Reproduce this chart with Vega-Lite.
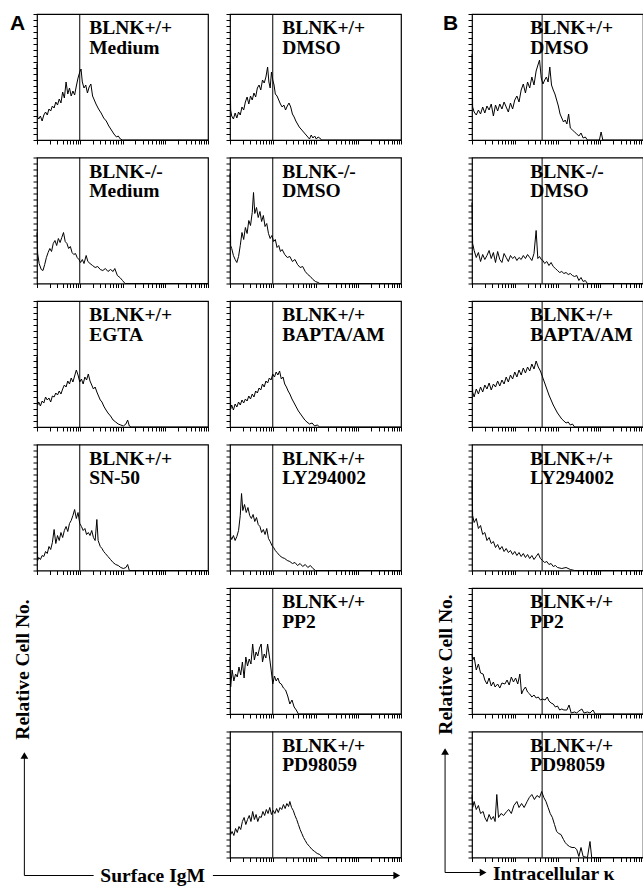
{
"$schema": "https://vega.github.io/schema/vega-lite/v6.json",
"padding": {"left": 9, "top": 12, "right": 0, "bottom": 0},
"background": "white",
"config": {"view": {"stroke": "black", "strokeWidth": 1.2}, "axis": {"domain": false, "grid": false, "labels": false, "ticks": true, "tickColor": "black", "tickSize": 4, "tickWidth": 1, "tickOpacity": 1, "tickRound": true, "tickCount": 100}},
"datasets": {
"lab": [
{"p":"a1","t":"BLNK+/+\nMedium"},{"p":"a2","t":"BLNK-/-\nMedium"},{"p":"a3","t":"BLNK+/+\nEGTA"},{"p":"a4","t":"BLNK+/+\nSN-50"},
{"p":"b1","t":"BLNK+/+\nDMSO"},{"p":"b2","t":"BLNK-/-\nDMSO"},{"p":"b3","t":"BLNK+/+\nBAPTA/AM"},{"p":"b4","t":"BLNK+/+\nLY294002"},{"p":"b5","t":"BLNK+/+\nPP2"},{"p":"b6","t":"BLNK+/+\nPD98059"},
{"p":"c1","t":"BLNK+/+\nDMSO"},{"p":"c2","t":"BLNK-/-\nDMSO"},{"p":"c3","t":"BLNK+/+\nBAPTA/AM"},{"p":"c4","t":"BLNK+/+\nLY294002"},{"p":"c5","t":"BLNK+/+\nPP2"},{"p":"c6","t":"BLNK+/+\nPD98059"}
],
"h": [
{"p":"a1","x":0,"y":76},{"p":"a1","x":0.015,"y":23},{"p":"a1","x":0.04,"y":21},{"p":"a1","x":0.08,"y":24},{"p":"a1","x":0.12,"y":19},{"p":"a1","x":0.16,"y":25},{"p":"a1","x":0.2,"y":28},{"p":"a1","x":0.24,"y":25},{"p":"a1","x":0.28,"y":31},{"p":"a1","x":0.32,"y":29},{"p":"a1","x":0.36,"y":34},{"p":"a1","x":0.4,"y":32},{"p":"a1","x":0.44,"y":38},{"p":"a1","x":0.48,"y":35},{"p":"a1","x":0.52,"y":41},{"p":"a1","x":0.56,"y":37},{"p":"a1","x":0.6,"y":48},{"p":"a1","x":0.64,"y":42},{"p":"a1","x":0.68,"y":58},{"p":"a1","x":0.72,"y":46},{"p":"a1","x":0.76,"y":52},{"p":"a1","x":0.8,"y":44},{"p":"a1","x":0.84,"y":49},{"p":"a1","x":0.88,"y":45},{"p":"a1","x":0.92,"y":54},{"p":"a1","x":0.96,"y":62},{"p":"a1","x":1.0,"y":68},{"p":"a1","x":1.03,"y":71},{"p":"a1","x":1.06,"y":58},{"p":"a1","x":1.1,"y":52},{"p":"a1","x":1.14,"y":55},{"p":"a1","x":1.18,"y":47},{"p":"a1","x":1.22,"y":53},{"p":"a1","x":1.26,"y":56},{"p":"a1","x":1.3,"y":44},{"p":"a1","x":1.34,"y":40},{"p":"a1","x":1.38,"y":36},{"p":"a1","x":1.44,"y":31},{"p":"a1","x":1.5,"y":27},{"p":"a1","x":1.56,"y":22},{"p":"a1","x":1.62,"y":19},{"p":"a1","x":1.68,"y":14},{"p":"a1","x":1.74,"y":10},{"p":"a1","x":1.8,"y":6},{"p":"a1","x":1.86,"y":3},{"p":"a1","x":1.9,"y":4},{"p":"a1","x":1.95,"y":1},{"p":"a1","x":2.0,"y":0},{"p":"a1","x":4,"y":0},
{"p":"a2","x":0,"y":51},{"p":"a2","x":0.015,"y":30},{"p":"a2","x":0.05,"y":20},{"p":"a2","x":0.1,"y":14},{"p":"a2","x":0.14,"y":13},{"p":"a2","x":0.18,"y":19},{"p":"a2","x":0.22,"y":26},{"p":"a2","x":0.26,"y":31},{"p":"a2","x":0.3,"y":35},{"p":"a2","x":0.34,"y":32},{"p":"a2","x":0.38,"y":40},{"p":"a2","x":0.42,"y":43},{"p":"a2","x":0.46,"y":38},{"p":"a2","x":0.5,"y":45},{"p":"a2","x":0.54,"y":41},{"p":"a2","x":0.58,"y":46},{"p":"a2","x":0.62,"y":51},{"p":"a2","x":0.66,"y":42},{"p":"a2","x":0.7,"y":40},{"p":"a2","x":0.74,"y":35},{"p":"a2","x":0.78,"y":37},{"p":"a2","x":0.82,"y":31},{"p":"a2","x":0.86,"y":29},{"p":"a2","x":0.9,"y":30},{"p":"a2","x":0.94,"y":26},{"p":"a2","x":0.98,"y":24},{"p":"a2","x":1.02,"y":21},{"p":"a2","x":1.06,"y":24},{"p":"a2","x":1.1,"y":20},{"p":"a2","x":1.15,"y":28},{"p":"a2","x":1.19,"y":22},{"p":"a2","x":1.24,"y":20},{"p":"a2","x":1.3,"y":18},{"p":"a2","x":1.36,"y":16},{"p":"a2","x":1.42,"y":17},{"p":"a2","x":1.48,"y":14},{"p":"a2","x":1.54,"y":13},{"p":"a2","x":1.6,"y":15},{"p":"a2","x":1.66,"y":12},{"p":"a2","x":1.72,"y":14},{"p":"a2","x":1.78,"y":12},{"p":"a2","x":1.82,"y":15},{"p":"a2","x":1.88,"y":8},{"p":"a2","x":1.94,"y":6},{"p":"a2","x":2.0,"y":3},{"p":"a2","x":2.06,"y":0},{"p":"a2","x":4,"y":0},
{"p":"a3","x":0,"y":70},{"p":"a3","x":0.015,"y":22},{"p":"a3","x":0.04,"y":25},{"p":"a3","x":0.08,"y":21},{"p":"a3","x":0.12,"y":26},{"p":"a3","x":0.16,"y":24},{"p":"a3","x":0.2,"y":30},{"p":"a3","x":0.24,"y":27},{"p":"a3","x":0.28,"y":29},{"p":"a3","x":0.32,"y":25},{"p":"a3","x":0.36,"y":31},{"p":"a3","x":0.4,"y":30},{"p":"a3","x":0.44,"y":34},{"p":"a3","x":0.48,"y":32},{"p":"a3","x":0.52,"y":36},{"p":"a3","x":0.56,"y":33},{"p":"a3","x":0.6,"y":38},{"p":"a3","x":0.64,"y":42},{"p":"a3","x":0.68,"y":40},{"p":"a3","x":0.72,"y":46},{"p":"a3","x":0.76,"y":43},{"p":"a3","x":0.8,"y":49},{"p":"a3","x":0.84,"y":45},{"p":"a3","x":0.88,"y":51},{"p":"a3","x":0.92,"y":57},{"p":"a3","x":0.96,"y":52},{"p":"a3","x":1.0,"y":45},{"p":"a3","x":1.04,"y":48},{"p":"a3","x":1.08,"y":43},{"p":"a3","x":1.12,"y":50},{"p":"a3","x":1.16,"y":47},{"p":"a3","x":1.2,"y":53},{"p":"a3","x":1.24,"y":46},{"p":"a3","x":1.28,"y":42},{"p":"a3","x":1.32,"y":38},{"p":"a3","x":1.36,"y":40},{"p":"a3","x":1.4,"y":35},{"p":"a3","x":1.44,"y":31},{"p":"a3","x":1.48,"y":27},{"p":"a3","x":1.52,"y":25},{"p":"a3","x":1.56,"y":21},{"p":"a3","x":1.6,"y":18},{"p":"a3","x":1.66,"y":14},{"p":"a3","x":1.72,"y":11},{"p":"a3","x":1.78,"y":7},{"p":"a3","x":1.84,"y":5},{"p":"a3","x":1.9,"y":3},{"p":"a3","x":1.96,"y":2},{"p":"a3","x":2.02,"y":1},{"p":"a3","x":2.08,"y":3},{"p":"a3","x":2.12,"y":7},{"p":"a3","x":2.16,"y":1},{"p":"a3","x":2.2,"y":0},{"p":"a3","x":4,"y":0},
{"p":"a4","x":0,"y":67},{"p":"a4","x":0.015,"y":10},{"p":"a4","x":0.04,"y":13},{"p":"a4","x":0.08,"y":11},{"p":"a4","x":0.12,"y":15},{"p":"a4","x":0.16,"y":14},{"p":"a4","x":0.2,"y":19},{"p":"a4","x":0.24,"y":17},{"p":"a4","x":0.28,"y":24},{"p":"a4","x":0.32,"y":21},{"p":"a4","x":0.36,"y":28},{"p":"a4","x":0.4,"y":41},{"p":"a4","x":0.44,"y":27},{"p":"a4","x":0.48,"y":35},{"p":"a4","x":0.52,"y":30},{"p":"a4","x":0.56,"y":38},{"p":"a4","x":0.6,"y":33},{"p":"a4","x":0.64,"y":40},{"p":"a4","x":0.68,"y":44},{"p":"a4","x":0.72,"y":39},{"p":"a4","x":0.76,"y":47},{"p":"a4","x":0.8,"y":50},{"p":"a4","x":0.84,"y":55},{"p":"a4","x":0.88,"y":61},{"p":"a4","x":0.92,"y":52},{"p":"a4","x":0.96,"y":58},{"p":"a4","x":1.0,"y":47},{"p":"a4","x":1.04,"y":44},{"p":"a4","x":1.08,"y":40},{"p":"a4","x":1.12,"y":42},{"p":"a4","x":1.16,"y":36},{"p":"a4","x":1.2,"y":38},{"p":"a4","x":1.24,"y":35},{"p":"a4","x":1.28,"y":40},{"p":"a4","x":1.32,"y":33},{"p":"a4","x":1.36,"y":30},{"p":"a4","x":1.4,"y":51},{"p":"a4","x":1.43,"y":30},{"p":"a4","x":1.48,"y":24},{"p":"a4","x":1.52,"y":22},{"p":"a4","x":1.56,"y":19},{"p":"a4","x":1.6,"y":17},{"p":"a4","x":1.66,"y":14},{"p":"a4","x":1.72,"y":11},{"p":"a4","x":1.78,"y":8},{"p":"a4","x":1.84,"y":6},{"p":"a4","x":1.9,"y":5},{"p":"a4","x":1.96,"y":3},{"p":"a4","x":2.02,"y":2},{"p":"a4","x":2.08,"y":3},{"p":"a4","x":2.12,"y":6},{"p":"a4","x":2.16,"y":0},{"p":"a4","x":4,"y":0},
{"p":"b1","x":0,"y":76},{"p":"b1","x":0.015,"y":30},{"p":"b1","x":0.04,"y":24},{"p":"b1","x":0.08,"y":21},{"p":"b1","x":0.12,"y":27},{"p":"b1","x":0.16,"y":22},{"p":"b1","x":0.2,"y":28},{"p":"b1","x":0.24,"y":25},{"p":"b1","x":0.28,"y":33},{"p":"b1","x":0.32,"y":30},{"p":"b1","x":0.36,"y":38},{"p":"b1","x":0.4,"y":43},{"p":"b1","x":0.44,"y":36},{"p":"b1","x":0.48,"y":44},{"p":"b1","x":0.52,"y":40},{"p":"b1","x":0.56,"y":47},{"p":"b1","x":0.6,"y":43},{"p":"b1","x":0.64,"y":52},{"p":"b1","x":0.68,"y":55},{"p":"b1","x":0.72,"y":50},{"p":"b1","x":0.76,"y":60},{"p":"b1","x":0.8,"y":57},{"p":"b1","x":0.84,"y":63},{"p":"b1","x":0.88,"y":73},{"p":"b1","x":0.91,"y":58},{"p":"b1","x":0.94,"y":52},{"p":"b1","x":0.97,"y":68},{"p":"b1","x":1.0,"y":60},{"p":"b1","x":1.03,"y":55},{"p":"b1","x":1.06,"y":46},{"p":"b1","x":1.1,"y":44},{"p":"b1","x":1.14,"y":40},{"p":"b1","x":1.18,"y":36},{"p":"b1","x":1.22,"y":33},{"p":"b1","x":1.26,"y":35},{"p":"b1","x":1.3,"y":30},{"p":"b1","x":1.34,"y":34},{"p":"b1","x":1.38,"y":37},{"p":"b1","x":1.42,"y":33},{"p":"b1","x":1.46,"y":26},{"p":"b1","x":1.5,"y":23},{"p":"b1","x":1.54,"y":19},{"p":"b1","x":1.58,"y":16},{"p":"b1","x":1.62,"y":13},{"p":"b1","x":1.66,"y":11},{"p":"b1","x":1.7,"y":9},{"p":"b1","x":1.74,"y":7},{"p":"b1","x":1.78,"y":5},{"p":"b1","x":1.82,"y":3},{"p":"b1","x":1.86,"y":1},{"p":"b1","x":1.9,"y":5},{"p":"b1","x":1.94,"y":2},{"p":"b1","x":1.98,"y":4},{"p":"b1","x":2.02,"y":1},{"p":"b1","x":2.06,"y":3},{"p":"b1","x":2.1,"y":2},{"p":"b1","x":2.14,"y":0},{"p":"b1","x":4,"y":0},
{"p":"b2","x":0,"y":110},{"p":"b2","x":0.015,"y":38},{"p":"b2","x":0.04,"y":35},{"p":"b2","x":0.08,"y":28},{"p":"b2","x":0.12,"y":24},{"p":"b2","x":0.16,"y":21},{"p":"b2","x":0.2,"y":27},{"p":"b2","x":0.24,"y":38},{"p":"b2","x":0.28,"y":51},{"p":"b2","x":0.32,"y":44},{"p":"b2","x":0.36,"y":56},{"p":"b2","x":0.4,"y":50},{"p":"b2","x":0.44,"y":63},{"p":"b2","x":0.48,"y":58},{"p":"b2","x":0.52,"y":71},{"p":"b2","x":0.55,"y":91},{"p":"b2","x":0.58,"y":70},{"p":"b2","x":0.62,"y":76},{"p":"b2","x":0.66,"y":66},{"p":"b2","x":0.7,"y":72},{"p":"b2","x":0.74,"y":62},{"p":"b2","x":0.78,"y":68},{"p":"b2","x":0.82,"y":57},{"p":"b2","x":0.86,"y":60},{"p":"b2","x":0.9,"y":50},{"p":"b2","x":0.94,"y":45},{"p":"b2","x":0.98,"y":48},{"p":"b2","x":1.02,"y":42},{"p":"b2","x":1.06,"y":44},{"p":"b2","x":1.1,"y":36},{"p":"b2","x":1.14,"y":38},{"p":"b2","x":1.18,"y":32},{"p":"b2","x":1.22,"y":34},{"p":"b2","x":1.28,"y":29},{"p":"b2","x":1.34,"y":26},{"p":"b2","x":1.4,"y":27},{"p":"b2","x":1.46,"y":22},{"p":"b2","x":1.52,"y":24},{"p":"b2","x":1.58,"y":19},{"p":"b2","x":1.64,"y":16},{"p":"b2","x":1.7,"y":17},{"p":"b2","x":1.76,"y":12},{"p":"b2","x":1.82,"y":9},{"p":"b2","x":1.88,"y":7},{"p":"b2","x":1.94,"y":4},{"p":"b2","x":2.0,"y":2},{"p":"b2","x":2.06,"y":1},{"p":"b2","x":2.1,"y":0},{"p":"b2","x":4,"y":0},
{"p":"b3","x":0,"y":70},{"p":"b3","x":0.015,"y":18},{"p":"b3","x":0.04,"y":22},{"p":"b3","x":0.08,"y":17},{"p":"b3","x":0.12,"y":23},{"p":"b3","x":0.16,"y":20},{"p":"b3","x":0.2,"y":25},{"p":"b3","x":0.24,"y":22},{"p":"b3","x":0.28,"y":27},{"p":"b3","x":0.32,"y":24},{"p":"b3","x":0.36,"y":28},{"p":"b3","x":0.4,"y":26},{"p":"b3","x":0.44,"y":31},{"p":"b3","x":0.48,"y":28},{"p":"b3","x":0.52,"y":33},{"p":"b3","x":0.56,"y":30},{"p":"b3","x":0.6,"y":36},{"p":"b3","x":0.64,"y":34},{"p":"b3","x":0.68,"y":39},{"p":"b3","x":0.72,"y":37},{"p":"b3","x":0.76,"y":43},{"p":"b3","x":0.8,"y":40},{"p":"b3","x":0.84,"y":46},{"p":"b3","x":0.88,"y":44},{"p":"b3","x":0.92,"y":49},{"p":"b3","x":0.96,"y":47},{"p":"b3","x":1.0,"y":53},{"p":"b3","x":1.04,"y":50},{"p":"b3","x":1.08,"y":55},{"p":"b3","x":1.12,"y":52},{"p":"b3","x":1.16,"y":56},{"p":"b3","x":1.2,"y":48},{"p":"b3","x":1.24,"y":50},{"p":"b3","x":1.28,"y":43},{"p":"b3","x":1.32,"y":40},{"p":"b3","x":1.36,"y":36},{"p":"b3","x":1.4,"y":33},{"p":"b3","x":1.45,"y":28},{"p":"b3","x":1.5,"y":24},{"p":"b3","x":1.55,"y":20},{"p":"b3","x":1.6,"y":16},{"p":"b3","x":1.65,"y":13},{"p":"b3","x":1.7,"y":10},{"p":"b3","x":1.75,"y":7},{"p":"b3","x":1.8,"y":5},{"p":"b3","x":1.86,"y":3},{"p":"b3","x":1.92,"y":4},{"p":"b3","x":1.98,"y":1},{"p":"b3","x":2.04,"y":2},{"p":"b3","x":2.1,"y":0},{"p":"b3","x":4,"y":0},
{"p":"b4","x":0,"y":97},{"p":"b4","x":0.015,"y":34},{"p":"b4","x":0.04,"y":31},{"p":"b4","x":0.08,"y":35},{"p":"b4","x":0.12,"y":30},{"p":"b4","x":0.16,"y":34},{"p":"b4","x":0.2,"y":40},{"p":"b4","x":0.24,"y":55},{"p":"b4","x":0.27,"y":77},{"p":"b4","x":0.3,"y":60},{"p":"b4","x":0.34,"y":66},{"p":"b4","x":0.38,"y":58},{"p":"b4","x":0.42,"y":63},{"p":"b4","x":0.46,"y":55},{"p":"b4","x":0.5,"y":52},{"p":"b4","x":0.54,"y":56},{"p":"b4","x":0.58,"y":49},{"p":"b4","x":0.62,"y":53},{"p":"b4","x":0.66,"y":46},{"p":"b4","x":0.7,"y":44},{"p":"b4","x":0.74,"y":38},{"p":"b4","x":0.78,"y":41},{"p":"b4","x":0.82,"y":36},{"p":"b4","x":0.86,"y":42},{"p":"b4","x":0.9,"y":32},{"p":"b4","x":0.94,"y":29},{"p":"b4","x":0.98,"y":25},{"p":"b4","x":1.02,"y":23},{"p":"b4","x":1.06,"y":20},{"p":"b4","x":1.1,"y":18},{"p":"b4","x":1.16,"y":15},{"p":"b4","x":1.22,"y":13},{"p":"b4","x":1.28,"y":12},{"p":"b4","x":1.34,"y":10},{"p":"b4","x":1.4,"y":9},{"p":"b4","x":1.46,"y":7},{"p":"b4","x":1.52,"y":8},{"p":"b4","x":1.58,"y":5},{"p":"b4","x":1.64,"y":7},{"p":"b4","x":1.7,"y":4},{"p":"b4","x":1.76,"y":6},{"p":"b4","x":1.82,"y":3},{"p":"b4","x":1.88,"y":5},{"p":"b4","x":1.94,"y":2},{"p":"b4","x":2.0,"y":0},{"p":"b4","x":4,"y":0},
{"p":"b5","x":0,"y":57},{"p":"b5","x":0.015,"y":27},{"p":"b5","x":0.05,"y":44},{"p":"b5","x":0.09,"y":33},{"p":"b5","x":0.13,"y":40},{"p":"b5","x":0.17,"y":37},{"p":"b5","x":0.21,"y":47},{"p":"b5","x":0.25,"y":39},{"p":"b5","x":0.29,"y":52},{"p":"b5","x":0.33,"y":36},{"p":"b5","x":0.37,"y":57},{"p":"b5","x":0.41,"y":48},{"p":"b5","x":0.45,"y":55},{"p":"b5","x":0.49,"y":50},{"p":"b5","x":0.53,"y":70},{"p":"b5","x":0.57,"y":54},{"p":"b5","x":0.61,"y":62},{"p":"b5","x":0.65,"y":58},{"p":"b5","x":0.69,"y":66},{"p":"b5","x":0.73,"y":70},{"p":"b5","x":0.76,"y":52},{"p":"b5","x":0.8,"y":60},{"p":"b5","x":0.84,"y":56},{"p":"b5","x":0.88,"y":70},{"p":"b5","x":0.92,"y":58},{"p":"b5","x":0.96,"y":45},{"p":"b5","x":1.0,"y":30},{"p":"b5","x":1.04,"y":38},{"p":"b5","x":1.08,"y":33},{"p":"b5","x":1.12,"y":36},{"p":"b5","x":1.16,"y":31},{"p":"b5","x":1.2,"y":30},{"p":"b5","x":1.25,"y":26},{"p":"b5","x":1.3,"y":24},{"p":"b5","x":1.35,"y":18},{"p":"b5","x":1.4,"y":10},{"p":"b5","x":1.45,"y":14},{"p":"b5","x":1.5,"y":7},{"p":"b5","x":1.55,"y":4},{"p":"b5","x":1.6,"y":0},{"p":"b5","x":4,"y":0},
{"p":"b6","x":0,"y":73},{"p":"b6","x":0.015,"y":23},{"p":"b6","x":0.05,"y":26},{"p":"b6","x":0.09,"y":22},{"p":"b6","x":0.13,"y":29},{"p":"b6","x":0.17,"y":25},{"p":"b6","x":0.21,"y":31},{"p":"b6","x":0.25,"y":28},{"p":"b6","x":0.29,"y":36},{"p":"b6","x":0.33,"y":40},{"p":"b6","x":0.37,"y":33},{"p":"b6","x":0.41,"y":38},{"p":"b6","x":0.45,"y":42},{"p":"b6","x":0.49,"y":36},{"p":"b6","x":0.53,"y":46},{"p":"b6","x":0.57,"y":38},{"p":"b6","x":0.61,"y":43},{"p":"b6","x":0.65,"y":36},{"p":"b6","x":0.69,"y":41},{"p":"b6","x":0.73,"y":40},{"p":"b6","x":0.77,"y":46},{"p":"b6","x":0.81,"y":42},{"p":"b6","x":0.85,"y":48},{"p":"b6","x":0.89,"y":44},{"p":"b6","x":0.93,"y":50},{"p":"b6","x":0.97,"y":43},{"p":"b6","x":1.01,"y":47},{"p":"b6","x":1.05,"y":44},{"p":"b6","x":1.09,"y":49},{"p":"b6","x":1.13,"y":45},{"p":"b6","x":1.17,"y":50},{"p":"b6","x":1.21,"y":48},{"p":"b6","x":1.25,"y":53},{"p":"b6","x":1.29,"y":49},{"p":"b6","x":1.33,"y":54},{"p":"b6","x":1.37,"y":51},{"p":"b6","x":1.4,"y":56},{"p":"b6","x":1.44,"y":50},{"p":"b6","x":1.48,"y":47},{"p":"b6","x":1.52,"y":42},{"p":"b6","x":1.56,"y":38},{"p":"b6","x":1.6,"y":33},{"p":"b6","x":1.64,"y":28},{"p":"b6","x":1.68,"y":24},{"p":"b6","x":1.72,"y":20},{"p":"b6","x":1.76,"y":17},{"p":"b6","x":1.8,"y":14},{"p":"b6","x":1.86,"y":11},{"p":"b6","x":1.92,"y":8},{"p":"b6","x":1.98,"y":6},{"p":"b6","x":2.04,"y":4},{"p":"b6","x":2.1,"y":3},{"p":"b6","x":2.14,"y":1},{"p":"b6","x":2.18,"y":0},{"p":"b6","x":4,"y":0},
{"p":"c1","x":0,"y":86},{"p":"c1","x":0.015,"y":33},{"p":"c1","x":0.05,"y":28},{"p":"c1","x":0.1,"y":25},{"p":"c1","x":0.15,"y":30},{"p":"c1","x":0.2,"y":26},{"p":"c1","x":0.25,"y":33},{"p":"c1","x":0.3,"y":27},{"p":"c1","x":0.35,"y":34},{"p":"c1","x":0.4,"y":30},{"p":"c1","x":0.45,"y":36},{"p":"c1","x":0.5,"y":24},{"p":"c1","x":0.55,"y":35},{"p":"c1","x":0.6,"y":29},{"p":"c1","x":0.65,"y":36},{"p":"c1","x":0.7,"y":31},{"p":"c1","x":0.75,"y":38},{"p":"c1","x":0.8,"y":33},{"p":"c1","x":0.85,"y":28},{"p":"c1","x":0.9,"y":37},{"p":"c1","x":0.95,"y":31},{"p":"c1","x":1.0,"y":40},{"p":"c1","x":1.05,"y":44},{"p":"c1","x":1.1,"y":38},{"p":"c1","x":1.15,"y":50},{"p":"c1","x":1.2,"y":56},{"p":"c1","x":1.25,"y":47},{"p":"c1","x":1.3,"y":58},{"p":"c1","x":1.35,"y":52},{"p":"c1","x":1.4,"y":63},{"p":"c1","x":1.45,"y":55},{"p":"c1","x":1.5,"y":69},{"p":"c1","x":1.55,"y":76},{"p":"c1","x":1.58,"y":80},{"p":"c1","x":1.62,"y":62},{"p":"c1","x":1.66,"y":56},{"p":"c1","x":1.7,"y":60},{"p":"c1","x":1.74,"y":63},{"p":"c1","x":1.78,"y":58},{"p":"c1","x":1.82,"y":73},{"p":"c1","x":1.86,"y":55},{"p":"c1","x":1.9,"y":50},{"p":"c1","x":1.94,"y":46},{"p":"c1","x":1.98,"y":40},{"p":"c1","x":2.02,"y":34},{"p":"c1","x":2.06,"y":26},{"p":"c1","x":2.1,"y":22},{"p":"c1","x":2.14,"y":18},{"p":"c1","x":2.18,"y":20},{"p":"c1","x":2.22,"y":16},{"p":"c1","x":2.26,"y":26},{"p":"c1","x":2.3,"y":12},{"p":"c1","x":2.35,"y":10},{"p":"c1","x":2.4,"y":8},{"p":"c1","x":2.45,"y":6},{"p":"c1","x":2.5,"y":4},{"p":"c1","x":2.55,"y":7},{"p":"c1","x":2.6,"y":2},{"p":"c1","x":2.65,"y":3},{"p":"c1","x":2.7,"y":0},{"p":"c1","x":2.98,"y":0},{"p":"c1","x":3.02,"y":8},{"p":"c1","x":3.06,"y":0},{"p":"c1","x":4,"y":0},
{"p":"c2","x":0,"y":81},{"p":"c2","x":0.015,"y":40},{"p":"c2","x":0.05,"y":33},{"p":"c2","x":0.1,"y":26},{"p":"c2","x":0.15,"y":31},{"p":"c2","x":0.2,"y":22},{"p":"c2","x":0.25,"y":29},{"p":"c2","x":0.3,"y":24},{"p":"c2","x":0.35,"y":28},{"p":"c2","x":0.4,"y":33},{"p":"c2","x":0.45,"y":25},{"p":"c2","x":0.5,"y":31},{"p":"c2","x":0.55,"y":21},{"p":"c2","x":0.6,"y":32},{"p":"c2","x":0.65,"y":24},{"p":"c2","x":0.7,"y":21},{"p":"c2","x":0.75,"y":30},{"p":"c2","x":0.8,"y":26},{"p":"c2","x":0.85,"y":22},{"p":"c2","x":0.9,"y":28},{"p":"c2","x":0.95,"y":25},{"p":"c2","x":1.0,"y":27},{"p":"c2","x":1.05,"y":23},{"p":"c2","x":1.1,"y":26},{"p":"c2","x":1.15,"y":24},{"p":"c2","x":1.2,"y":28},{"p":"c2","x":1.25,"y":25},{"p":"c2","x":1.3,"y":29},{"p":"c2","x":1.35,"y":26},{"p":"c2","x":1.4,"y":23},{"p":"c2","x":1.45,"y":30},{"p":"c2","x":1.5,"y":53},{"p":"c2","x":1.54,"y":25},{"p":"c2","x":1.58,"y":27},{"p":"c2","x":1.62,"y":24},{"p":"c2","x":1.66,"y":23},{"p":"c2","x":1.7,"y":20},{"p":"c2","x":1.75,"y":22},{"p":"c2","x":1.8,"y":18},{"p":"c2","x":1.85,"y":21},{"p":"c2","x":1.9,"y":17},{"p":"c2","x":1.95,"y":15},{"p":"c2","x":2.0,"y":13},{"p":"c2","x":2.05,"y":11},{"p":"c2","x":2.1,"y":12},{"p":"c2","x":2.15,"y":10},{"p":"c2","x":2.2,"y":11},{"p":"c2","x":2.25,"y":9},{"p":"c2","x":2.3,"y":10},{"p":"c2","x":2.35,"y":8},{"p":"c2","x":2.4,"y":7},{"p":"c2","x":2.45,"y":8},{"p":"c2","x":2.5,"y":3},{"p":"c2","x":2.55,"y":6},{"p":"c2","x":2.6,"y":2},{"p":"c2","x":2.65,"y":3},{"p":"c2","x":2.7,"y":0},{"p":"c2","x":4,"y":0},
{"p":"c3","x":0,"y":80},{"p":"c3","x":0.015,"y":35},{"p":"c3","x":0.05,"y":30},{"p":"c3","x":0.1,"y":38},{"p":"c3","x":0.15,"y":33},{"p":"c3","x":0.2,"y":40},{"p":"c3","x":0.25,"y":35},{"p":"c3","x":0.3,"y":42},{"p":"c3","x":0.35,"y":38},{"p":"c3","x":0.4,"y":44},{"p":"c3","x":0.45,"y":37},{"p":"c3","x":0.5,"y":43},{"p":"c3","x":0.55,"y":40},{"p":"c3","x":0.6,"y":46},{"p":"c3","x":0.65,"y":41},{"p":"c3","x":0.7,"y":47},{"p":"c3","x":0.75,"y":43},{"p":"c3","x":0.8,"y":50},{"p":"c3","x":0.85,"y":45},{"p":"c3","x":0.9,"y":52},{"p":"c3","x":0.95,"y":48},{"p":"c3","x":1.0,"y":55},{"p":"c3","x":1.05,"y":50},{"p":"c3","x":1.1,"y":57},{"p":"c3","x":1.15,"y":52},{"p":"c3","x":1.2,"y":59},{"p":"c3","x":1.25,"y":54},{"p":"c3","x":1.3,"y":60},{"p":"c3","x":1.35,"y":56},{"p":"c3","x":1.4,"y":63},{"p":"c3","x":1.45,"y":58},{"p":"c3","x":1.5,"y":66},{"p":"c3","x":1.55,"y":60},{"p":"c3","x":1.6,"y":56},{"p":"c3","x":1.65,"y":50},{"p":"c3","x":1.7,"y":44},{"p":"c3","x":1.75,"y":38},{"p":"c3","x":1.8,"y":32},{"p":"c3","x":1.85,"y":27},{"p":"c3","x":1.9,"y":22},{"p":"c3","x":1.95,"y":18},{"p":"c3","x":2.0,"y":14},{"p":"c3","x":2.05,"y":11},{"p":"c3","x":2.1,"y":8},{"p":"c3","x":2.15,"y":6},{"p":"c3","x":2.2,"y":4},{"p":"c3","x":2.25,"y":5},{"p":"c3","x":2.3,"y":2},{"p":"c3","x":2.35,"y":3},{"p":"c3","x":2.4,"y":0},{"p":"c3","x":4,"y":0},
{"p":"c4","x":0,"y":90},{"p":"c4","x":0.015,"y":55},{"p":"c4","x":0.05,"y":48},{"p":"c4","x":0.1,"y":52},{"p":"c4","x":0.15,"y":42},{"p":"c4","x":0.2,"y":45},{"p":"c4","x":0.25,"y":36},{"p":"c4","x":0.3,"y":38},{"p":"c4","x":0.35,"y":30},{"p":"c4","x":0.4,"y":33},{"p":"c4","x":0.45,"y":27},{"p":"c4","x":0.5,"y":29},{"p":"c4","x":0.55,"y":23},{"p":"c4","x":0.6,"y":26},{"p":"c4","x":0.65,"y":21},{"p":"c4","x":0.7,"y":24},{"p":"c4","x":0.75,"y":19},{"p":"c4","x":0.8,"y":22},{"p":"c4","x":0.85,"y":18},{"p":"c4","x":0.9,"y":20},{"p":"c4","x":0.95,"y":16},{"p":"c4","x":1.0,"y":19},{"p":"c4","x":1.05,"y":15},{"p":"c4","x":1.1,"y":18},{"p":"c4","x":1.15,"y":14},{"p":"c4","x":1.2,"y":17},{"p":"c4","x":1.25,"y":13},{"p":"c4","x":1.3,"y":16},{"p":"c4","x":1.35,"y":12},{"p":"c4","x":1.4,"y":15},{"p":"c4","x":1.45,"y":11},{"p":"c4","x":1.5,"y":14},{"p":"c4","x":1.55,"y":17},{"p":"c4","x":1.6,"y":12},{"p":"c4","x":1.65,"y":10},{"p":"c4","x":1.7,"y":8},{"p":"c4","x":1.75,"y":9},{"p":"c4","x":1.8,"y":6},{"p":"c4","x":1.85,"y":7},{"p":"c4","x":1.9,"y":4},{"p":"c4","x":1.95,"y":5},{"p":"c4","x":2.0,"y":3},{"p":"c4","x":2.1,"y":2},{"p":"c4","x":2.2,"y":3},{"p":"c4","x":2.3,"y":1},{"p":"c4","x":2.4,"y":0},{"p":"c4","x":4,"y":0},
{"p":"c5","x":0,"y":60},{"p":"c5","x":0.015,"y":54},{"p":"c5","x":0.05,"y":57},{"p":"c5","x":0.1,"y":44},{"p":"c5","x":0.15,"y":50},{"p":"c5","x":0.2,"y":41},{"p":"c5","x":0.26,"y":40},{"p":"c5","x":0.3,"y":34},{"p":"c5","x":0.35,"y":30},{"p":"c5","x":0.4,"y":36},{"p":"c5","x":0.45,"y":28},{"p":"c5","x":0.5,"y":32},{"p":"c5","x":0.54,"y":27},{"p":"c5","x":0.6,"y":30},{"p":"c5","x":0.65,"y":26},{"p":"c5","x":0.7,"y":31},{"p":"c5","x":0.77,"y":30},{"p":"c5","x":0.82,"y":34},{"p":"c5","x":0.87,"y":29},{"p":"c5","x":0.92,"y":37},{"p":"c5","x":0.97,"y":32},{"p":"c5","x":1.02,"y":36},{"p":"c5","x":1.07,"y":30},{"p":"c5","x":1.12,"y":40},{"p":"c5","x":1.16,"y":20},{"p":"c5","x":1.2,"y":24},{"p":"c5","x":1.25,"y":27},{"p":"c5","x":1.3,"y":22},{"p":"c5","x":1.35,"y":20},{"p":"c5","x":1.4,"y":17},{"p":"c5","x":1.45,"y":19},{"p":"c5","x":1.5,"y":16},{"p":"c5","x":1.55,"y":17},{"p":"c5","x":1.6,"y":14},{"p":"c5","x":1.65,"y":15},{"p":"c5","x":1.71,"y":14},{"p":"c5","x":1.76,"y":17},{"p":"c5","x":1.8,"y":13},{"p":"c5","x":1.85,"y":11},{"p":"c5","x":1.9,"y":10},{"p":"c5","x":1.95,"y":7},{"p":"c5","x":2.0,"y":8},{"p":"c5","x":2.05,"y":4},{"p":"c5","x":2.1,"y":5},{"p":"c5","x":2.15,"y":4},{"p":"c5","x":2.22,"y":4},{"p":"c5","x":2.27,"y":9},{"p":"c5","x":2.32,"y":1},{"p":"c5","x":2.4,"y":2},{"p":"c5","x":2.45,"y":1},{"p":"c5","x":2.5,"y":3},{"p":"c5","x":2.57,"y":5},{"p":"c5","x":2.62,"y":1},{"p":"c5","x":2.7,"y":2},{"p":"c5","x":2.76,"y":1},{"p":"c5","x":2.83,"y":4},{"p":"c5","x":2.88,"y":0},{"p":"c5","x":4,"y":0},
{"p":"c6","x":0,"y":63},{"p":"c6","x":0.015,"y":50},{"p":"c6","x":0.05,"y":56},{"p":"c6","x":0.1,"y":48},{"p":"c6","x":0.15,"y":52},{"p":"c6","x":0.2,"y":44},{"p":"c6","x":0.26,"y":46},{"p":"c6","x":0.3,"y":40},{"p":"c6","x":0.35,"y":36},{"p":"c6","x":0.4,"y":43},{"p":"c6","x":0.45,"y":38},{"p":"c6","x":0.5,"y":41},{"p":"c6","x":0.54,"y":36},{"p":"c6","x":0.58,"y":63},{"p":"c6","x":0.62,"y":40},{"p":"c6","x":0.68,"y":44},{"p":"c6","x":0.74,"y":42},{"p":"c6","x":0.81,"y":46},{"p":"c6","x":0.86,"y":48},{"p":"c6","x":0.92,"y":44},{"p":"c6","x":0.98,"y":52},{"p":"c6","x":1.05,"y":56},{"p":"c6","x":1.1,"y":50},{"p":"c6","x":1.16,"y":54},{"p":"c6","x":1.22,"y":50},{"p":"c6","x":1.29,"y":56},{"p":"c6","x":1.34,"y":60},{"p":"c6","x":1.4,"y":63},{"p":"c6","x":1.46,"y":58},{"p":"c6","x":1.52,"y":62},{"p":"c6","x":1.58,"y":60},{"p":"c6","x":1.63,"y":66},{"p":"c6","x":1.68,"y":60},{"p":"c6","x":1.73,"y":56},{"p":"c6","x":1.78,"y":50},{"p":"c6","x":1.83,"y":44},{"p":"c6","x":1.88,"y":40},{"p":"c6","x":1.93,"y":33},{"p":"c6","x":1.98,"y":26},{"p":"c6","x":2.03,"y":24},{"p":"c6","x":2.08,"y":23},{"p":"c6","x":2.14,"y":18},{"p":"c6","x":2.18,"y":15},{"p":"c6","x":2.22,"y":13},{"p":"c6","x":2.28,"y":11},{"p":"c6","x":2.34,"y":10},{"p":"c6","x":2.4,"y":10},{"p":"c6","x":2.45,"y":8},{"p":"c6","x":2.5,"y":1},{"p":"c6","x":2.55,"y":10},{"p":"c6","x":2.6,"y":1},{"p":"c6","x":2.7,"y":0},{"p":"c6","x":2.76,"y":16},{"p":"c6","x":2.8,"y":0},{"p":"c6","x":4,"y":0}
]
},
"bounds": "flush",
"columns": 4,
"spacing": {"row": 17.5, "column": 22},
"concat": [
{"width": 171, "height": 126, "layer": [
{"data": {"name": "h"}, "transform": [{"filter": "datum.p === 'a1'"}], "mark": {"type": "line", "color": "black", "strokeWidth": 1}, "encoding": {"x": {"field": "x", "type": "quantitative", "scale": {"domain": [0, 4], "nice": false}, "axis": {"title": null, "tickCount": 100, "values": [0,0.301,0.477,0.602,0.699,0.778,0.845,0.903,0.954,1,1.301,1.477,1.602,1.699,1.778,1.845,1.903,1.954,2,2.301,2.477,2.602,2.699,2.778,2.845,2.903,2.954,3,3.301,3.477,3.602,3.699,3.778,3.845,3.903,3.954,4]}}, "y": {"field": "y", "type": "quantitative", "scale": {"domain": [0, 126], "nice": false}, "axis": {"title": null, "tickCount": 100, "values": [0,6,12,18,24,30,36,42,48,54,60,66,72,78,84,90,96,102,108,114,120,126]}}}},
{"data": {"values": [{}]}, "mark": {"type": "rule", "color": "black", "strokeWidth": 1}, "encoding": {"x": {"datum": 1}}},
{"data": {"name": "lab"}, "transform": [{"filter": "datum.p === 'a1'"}], "mark": {"type": "text", "align": "left", "baseline": "alphabetic", "font": "Liberation Serif", "fontWeight": "bold", "fontSize": 19.5, "lineHeight": 19.5, "lineBreak": "\n", "color": "black"}, "encoding": {"x": {"datum": 1.22}, "y": {"datum": 106}, "text": {"field": "t"}}},
{"data": {"values": [{"t": "A"}]}, "mark": {"type": "text", "align": "left", "baseline": "alphabetic", "font": "Liberation Sans", "fontWeight": "bold", "fontSize": 21, "color": "black"}, "encoding": {"x": {"datum": -0.63}, "y": {"datum": 110}, "text": {"field": "t"}}}
]},
{"width": 171, "height": 126, "layer": [
{"data": {"name": "h"}, "transform": [{"filter": "datum.p === 'b1'"}], "mark": {"type": "line", "color": "black", "strokeWidth": 1}, "encoding": {"x": {"field": "x", "type": "quantitative", "scale": {"domain": [0, 4], "nice": false}, "axis": {"title": null, "tickCount": 100, "values": [0,0.301,0.477,0.602,0.699,0.778,0.845,0.903,0.954,1,1.301,1.477,1.602,1.699,1.778,1.845,1.903,1.954,2,2.301,2.477,2.602,2.699,2.778,2.845,2.903,2.954,3,3.301,3.477,3.602,3.699,3.778,3.845,3.903,3.954,4]}}, "y": {"field": "y", "type": "quantitative", "scale": {"domain": [0, 126], "nice": false}, "axis": {"title": null, "tickCount": 100, "values": [0,6,12,18,24,30,36,42,48,54,60,66,72,78,84,90,96,102,108,114,120,126]}}}},
{"data": {"values": [{}]}, "mark": {"type": "rule", "color": "black", "strokeWidth": 1}, "encoding": {"x": {"datum": 1}}},
{"data": {"name": "lab"}, "transform": [{"filter": "datum.p === 'b1'"}], "mark": {"type": "text", "align": "left", "baseline": "alphabetic", "font": "Liberation Serif", "fontWeight": "bold", "fontSize": 19.5, "lineHeight": 19.5, "lineBreak": "\n", "color": "black"}, "encoding": {"x": {"datum": 1.22}, "y": {"datum": 106}, "text": {"field": "t"}}}
]},
{"width": 27, "height": 126, "view": {"stroke": null}, "data": {"values": [{}]}, "mark": {"type": "point", "opacity": 0}, "encoding": {}},
{"width": 171, "height": 126, "layer": [
{"data": {"name": "h"}, "transform": [{"filter": "datum.p === 'c1'"}], "mark": {"type": "line", "color": "black", "strokeWidth": 1}, "encoding": {"x": {"field": "x", "type": "quantitative", "scale": {"domain": [0, 4], "nice": false}, "axis": {"title": null, "tickCount": 100, "values": [0,0.301,0.477,0.602,0.699,0.778,0.845,0.903,0.954,1,1.301,1.477,1.602,1.699,1.778,1.845,1.903,1.954,2,2.301,2.477,2.602,2.699,2.778,2.845,2.903,2.954,3,3.301,3.477,3.602,3.699,3.778,3.845,3.903,3.954,4]}}, "y": {"field": "y", "type": "quantitative", "scale": {"domain": [0, 126], "nice": false}, "axis": {"title": null, "tickCount": 100, "values": [0,6,12,18,24,30,36,42,48,54,60,66,72,78,84,90,96,102,108,114,120,126]}}}},
{"data": {"values": [{}]}, "mark": {"type": "rule", "color": "black", "strokeWidth": 1}, "encoding": {"x": {"datum": 1.64}}},
{"data": {"name": "lab"}, "transform": [{"filter": "datum.p === 'c1'"}], "mark": {"type": "text", "align": "left", "baseline": "alphabetic", "font": "Liberation Serif", "fontWeight": "bold", "fontSize": 19.5, "lineHeight": 19.5, "lineBreak": "\n", "color": "black"}, "encoding": {"x": {"datum": 1.36}, "y": {"datum": 106}, "text": {"field": "t"}}},
{"data": {"values": [{"t": "B"}]}, "mark": {"type": "text", "align": "left", "baseline": "alphabetic", "font": "Liberation Sans", "fontWeight": "bold", "fontSize": 21, "color": "black"}, "encoding": {"x": {"datum": -0.68}, "y": {"datum": 110}, "text": {"field": "t"}}}
]},
{"width": 171, "height": 126, "layer": [
{"data": {"name": "h"}, "transform": [{"filter": "datum.p === 'a2'"}], "mark": {"type": "line", "color": "black", "strokeWidth": 1}, "encoding": {"x": {"field": "x", "type": "quantitative", "scale": {"domain": [0, 4], "nice": false}, "axis": {"title": null, "tickCount": 100, "values": [0,0.301,0.477,0.602,0.699,0.778,0.845,0.903,0.954,1,1.301,1.477,1.602,1.699,1.778,1.845,1.903,1.954,2,2.301,2.477,2.602,2.699,2.778,2.845,2.903,2.954,3,3.301,3.477,3.602,3.699,3.778,3.845,3.903,3.954,4]}}, "y": {"field": "y", "type": "quantitative", "scale": {"domain": [0, 126], "nice": false}, "axis": {"title": null, "tickCount": 100, "values": [0,6,12,18,24,30,36,42,48,54,60,66,72,78,84,90,96,102,108,114,120,126]}}}},
{"data": {"values": [{}]}, "mark": {"type": "rule", "color": "black", "strokeWidth": 1}, "encoding": {"x": {"datum": 1}}},
{"data": {"name": "lab"}, "transform": [{"filter": "datum.p === 'a2'"}], "mark": {"type": "text", "align": "left", "baseline": "alphabetic", "font": "Liberation Serif", "fontWeight": "bold", "fontSize": 19.5, "lineHeight": 19.5, "lineBreak": "\n", "color": "black"}, "encoding": {"x": {"datum": 1.22}, "y": {"datum": 106}, "text": {"field": "t"}}}
]},
{"width": 171, "height": 126, "layer": [
{"data": {"name": "h"}, "transform": [{"filter": "datum.p === 'b2'"}], "mark": {"type": "line", "color": "black", "strokeWidth": 1}, "encoding": {"x": {"field": "x", "type": "quantitative", "scale": {"domain": [0, 4], "nice": false}, "axis": {"title": null, "tickCount": 100, "values": [0,0.301,0.477,0.602,0.699,0.778,0.845,0.903,0.954,1,1.301,1.477,1.602,1.699,1.778,1.845,1.903,1.954,2,2.301,2.477,2.602,2.699,2.778,2.845,2.903,2.954,3,3.301,3.477,3.602,3.699,3.778,3.845,3.903,3.954,4]}}, "y": {"field": "y", "type": "quantitative", "scale": {"domain": [0, 126], "nice": false}, "axis": {"title": null, "tickCount": 100, "values": [0,6,12,18,24,30,36,42,48,54,60,66,72,78,84,90,96,102,108,114,120,126]}}}},
{"data": {"values": [{}]}, "mark": {"type": "rule", "color": "black", "strokeWidth": 1}, "encoding": {"x": {"datum": 1}}},
{"data": {"name": "lab"}, "transform": [{"filter": "datum.p === 'b2'"}], "mark": {"type": "text", "align": "left", "baseline": "alphabetic", "font": "Liberation Serif", "fontWeight": "bold", "fontSize": 19.5, "lineHeight": 19.5, "lineBreak": "\n", "color": "black"}, "encoding": {"x": {"datum": 1.22}, "y": {"datum": 106}, "text": {"field": "t"}}}
]},
{"width": 27, "height": 126, "view": {"stroke": null}, "data": {"values": [{}]}, "mark": {"type": "point", "opacity": 0}, "encoding": {}},
{"width": 171, "height": 126, "layer": [
{"data": {"name": "h"}, "transform": [{"filter": "datum.p === 'c2'"}], "mark": {"type": "line", "color": "black", "strokeWidth": 1}, "encoding": {"x": {"field": "x", "type": "quantitative", "scale": {"domain": [0, 4], "nice": false}, "axis": {"title": null, "tickCount": 100, "values": [0,0.301,0.477,0.602,0.699,0.778,0.845,0.903,0.954,1,1.301,1.477,1.602,1.699,1.778,1.845,1.903,1.954,2,2.301,2.477,2.602,2.699,2.778,2.845,2.903,2.954,3,3.301,3.477,3.602,3.699,3.778,3.845,3.903,3.954,4]}}, "y": {"field": "y", "type": "quantitative", "scale": {"domain": [0, 126], "nice": false}, "axis": {"title": null, "tickCount": 100, "values": [0,6,12,18,24,30,36,42,48,54,60,66,72,78,84,90,96,102,108,114,120,126]}}}},
{"data": {"values": [{}]}, "mark": {"type": "rule", "color": "black", "strokeWidth": 1}, "encoding": {"x": {"datum": 1.64}}},
{"data": {"name": "lab"}, "transform": [{"filter": "datum.p === 'c2'"}], "mark": {"type": "text", "align": "left", "baseline": "alphabetic", "font": "Liberation Serif", "fontWeight": "bold", "fontSize": 19.5, "lineHeight": 19.5, "lineBreak": "\n", "color": "black"}, "encoding": {"x": {"datum": 1.36}, "y": {"datum": 106}, "text": {"field": "t"}}}
]},
{"width": 171, "height": 126, "layer": [
{"data": {"name": "h"}, "transform": [{"filter": "datum.p === 'a3'"}], "mark": {"type": "line", "color": "black", "strokeWidth": 1}, "encoding": {"x": {"field": "x", "type": "quantitative", "scale": {"domain": [0, 4], "nice": false}, "axis": {"title": null, "tickCount": 100, "values": [0,0.301,0.477,0.602,0.699,0.778,0.845,0.903,0.954,1,1.301,1.477,1.602,1.699,1.778,1.845,1.903,1.954,2,2.301,2.477,2.602,2.699,2.778,2.845,2.903,2.954,3,3.301,3.477,3.602,3.699,3.778,3.845,3.903,3.954,4]}}, "y": {"field": "y", "type": "quantitative", "scale": {"domain": [0, 126], "nice": false}, "axis": {"title": null, "tickCount": 100, "values": [0,6,12,18,24,30,36,42,48,54,60,66,72,78,84,90,96,102,108,114,120,126]}}}},
{"data": {"values": [{}]}, "mark": {"type": "rule", "color": "black", "strokeWidth": 1}, "encoding": {"x": {"datum": 1}}},
{"data": {"name": "lab"}, "transform": [{"filter": "datum.p === 'a3'"}], "mark": {"type": "text", "align": "left", "baseline": "alphabetic", "font": "Liberation Serif", "fontWeight": "bold", "fontSize": 19.5, "lineHeight": 19.5, "lineBreak": "\n", "color": "black"}, "encoding": {"x": {"datum": 1.22}, "y": {"datum": 106}, "text": {"field": "t"}}}
]},
{"width": 171, "height": 126, "layer": [
{"data": {"name": "h"}, "transform": [{"filter": "datum.p === 'b3'"}], "mark": {"type": "line", "color": "black", "strokeWidth": 1}, "encoding": {"x": {"field": "x", "type": "quantitative", "scale": {"domain": [0, 4], "nice": false}, "axis": {"title": null, "tickCount": 100, "values": [0,0.301,0.477,0.602,0.699,0.778,0.845,0.903,0.954,1,1.301,1.477,1.602,1.699,1.778,1.845,1.903,1.954,2,2.301,2.477,2.602,2.699,2.778,2.845,2.903,2.954,3,3.301,3.477,3.602,3.699,3.778,3.845,3.903,3.954,4]}}, "y": {"field": "y", "type": "quantitative", "scale": {"domain": [0, 126], "nice": false}, "axis": {"title": null, "tickCount": 100, "values": [0,6,12,18,24,30,36,42,48,54,60,66,72,78,84,90,96,102,108,114,120,126]}}}},
{"data": {"values": [{}]}, "mark": {"type": "rule", "color": "black", "strokeWidth": 1}, "encoding": {"x": {"datum": 1}}},
{"data": {"name": "lab"}, "transform": [{"filter": "datum.p === 'b3'"}], "mark": {"type": "text", "align": "left", "baseline": "alphabetic", "font": "Liberation Serif", "fontWeight": "bold", "fontSize": 19.5, "lineHeight": 19.5, "lineBreak": "\n", "color": "black"}, "encoding": {"x": {"datum": 1.22}, "y": {"datum": 106}, "text": {"field": "t"}}}
]},
{"width": 27, "height": 126, "view": {"stroke": null}, "data": {"values": [{}]}, "mark": {"type": "point", "opacity": 0}, "encoding": {}},
{"width": 171, "height": 126, "layer": [
{"data": {"name": "h"}, "transform": [{"filter": "datum.p === 'c3'"}], "mark": {"type": "line", "color": "black", "strokeWidth": 1}, "encoding": {"x": {"field": "x", "type": "quantitative", "scale": {"domain": [0, 4], "nice": false}, "axis": {"title": null, "tickCount": 100, "values": [0,0.301,0.477,0.602,0.699,0.778,0.845,0.903,0.954,1,1.301,1.477,1.602,1.699,1.778,1.845,1.903,1.954,2,2.301,2.477,2.602,2.699,2.778,2.845,2.903,2.954,3,3.301,3.477,3.602,3.699,3.778,3.845,3.903,3.954,4]}}, "y": {"field": "y", "type": "quantitative", "scale": {"domain": [0, 126], "nice": false}, "axis": {"title": null, "tickCount": 100, "values": [0,6,12,18,24,30,36,42,48,54,60,66,72,78,84,90,96,102,108,114,120,126]}}}},
{"data": {"values": [{}]}, "mark": {"type": "rule", "color": "black", "strokeWidth": 1}, "encoding": {"x": {"datum": 1.64}}},
{"data": {"name": "lab"}, "transform": [{"filter": "datum.p === 'c3'"}], "mark": {"type": "text", "align": "left", "baseline": "alphabetic", "font": "Liberation Serif", "fontWeight": "bold", "fontSize": 19.5, "lineHeight": 19.5, "lineBreak": "\n", "color": "black"}, "encoding": {"x": {"datum": 1.36}, "y": {"datum": 106}, "text": {"field": "t"}}}
]},
{"width": 171, "height": 126, "layer": [
{"data": {"name": "h"}, "transform": [{"filter": "datum.p === 'a4'"}], "mark": {"type": "line", "color": "black", "strokeWidth": 1}, "encoding": {"x": {"field": "x", "type": "quantitative", "scale": {"domain": [0, 4], "nice": false}, "axis": {"title": null, "tickCount": 100, "values": [0,0.301,0.477,0.602,0.699,0.778,0.845,0.903,0.954,1,1.301,1.477,1.602,1.699,1.778,1.845,1.903,1.954,2,2.301,2.477,2.602,2.699,2.778,2.845,2.903,2.954,3,3.301,3.477,3.602,3.699,3.778,3.845,3.903,3.954,4]}}, "y": {"field": "y", "type": "quantitative", "scale": {"domain": [0, 126], "nice": false}, "axis": {"title": null, "tickCount": 100, "values": [0,6,12,18,24,30,36,42,48,54,60,66,72,78,84,90,96,102,108,114,120,126]}}}},
{"data": {"values": [{}]}, "mark": {"type": "rule", "color": "black", "strokeWidth": 1}, "encoding": {"x": {"datum": 1}}},
{"data": {"name": "lab"}, "transform": [{"filter": "datum.p === 'a4'"}], "mark": {"type": "text", "align": "left", "baseline": "alphabetic", "font": "Liberation Serif", "fontWeight": "bold", "fontSize": 19.5, "lineHeight": 19.5, "lineBreak": "\n", "color": "black"}, "encoding": {"x": {"datum": 1.22}, "y": {"datum": 106}, "text": {"field": "t"}}}
]},
{"width": 171, "height": 126, "layer": [
{"data": {"name": "h"}, "transform": [{"filter": "datum.p === 'b4'"}], "mark": {"type": "line", "color": "black", "strokeWidth": 1}, "encoding": {"x": {"field": "x", "type": "quantitative", "scale": {"domain": [0, 4], "nice": false}, "axis": {"title": null, "tickCount": 100, "values": [0,0.301,0.477,0.602,0.699,0.778,0.845,0.903,0.954,1,1.301,1.477,1.602,1.699,1.778,1.845,1.903,1.954,2,2.301,2.477,2.602,2.699,2.778,2.845,2.903,2.954,3,3.301,3.477,3.602,3.699,3.778,3.845,3.903,3.954,4]}}, "y": {"field": "y", "type": "quantitative", "scale": {"domain": [0, 126], "nice": false}, "axis": {"title": null, "tickCount": 100, "values": [0,6,12,18,24,30,36,42,48,54,60,66,72,78,84,90,96,102,108,114,120,126]}}}},
{"data": {"values": [{}]}, "mark": {"type": "rule", "color": "black", "strokeWidth": 1}, "encoding": {"x": {"datum": 1}}},
{"data": {"name": "lab"}, "transform": [{"filter": "datum.p === 'b4'"}], "mark": {"type": "text", "align": "left", "baseline": "alphabetic", "font": "Liberation Serif", "fontWeight": "bold", "fontSize": 19.5, "lineHeight": 19.5, "lineBreak": "\n", "color": "black"}, "encoding": {"x": {"datum": 1.22}, "y": {"datum": 106}, "text": {"field": "t"}}}
]},
{"width": 27, "height": 126, "view": {"stroke": null}, "data": {"values": [{}]}, "mark": {"type": "point", "opacity": 0}, "encoding": {}},
{"width": 171, "height": 126, "layer": [
{"data": {"name": "h"}, "transform": [{"filter": "datum.p === 'c4'"}], "mark": {"type": "line", "color": "black", "strokeWidth": 1}, "encoding": {"x": {"field": "x", "type": "quantitative", "scale": {"domain": [0, 4], "nice": false}, "axis": {"title": null, "tickCount": 100, "values": [0,0.301,0.477,0.602,0.699,0.778,0.845,0.903,0.954,1,1.301,1.477,1.602,1.699,1.778,1.845,1.903,1.954,2,2.301,2.477,2.602,2.699,2.778,2.845,2.903,2.954,3,3.301,3.477,3.602,3.699,3.778,3.845,3.903,3.954,4]}}, "y": {"field": "y", "type": "quantitative", "scale": {"domain": [0, 126], "nice": false}, "axis": {"title": null, "tickCount": 100, "values": [0,6,12,18,24,30,36,42,48,54,60,66,72,78,84,90,96,102,108,114,120,126]}}}},
{"data": {"values": [{}]}, "mark": {"type": "rule", "color": "black", "strokeWidth": 1}, "encoding": {"x": {"datum": 1.64}}},
{"data": {"name": "lab"}, "transform": [{"filter": "datum.p === 'c4'"}], "mark": {"type": "text", "align": "left", "baseline": "alphabetic", "font": "Liberation Serif", "fontWeight": "bold", "fontSize": 19.5, "lineHeight": 19.5, "lineBreak": "\n", "color": "black"}, "encoding": {"x": {"datum": 1.36}, "y": {"datum": 106}, "text": {"field": "t"}}}
]},
{"width": 171, "height": 126, "view": {"stroke": null}, "data": {"values": [{}]}, "mark": {"type": "point", "opacity": 0}, "encoding": {}},
{"width": 171, "height": 126, "layer": [
{"data": {"name": "h"}, "transform": [{"filter": "datum.p === 'b5'"}], "mark": {"type": "line", "color": "black", "strokeWidth": 1}, "encoding": {"x": {"field": "x", "type": "quantitative", "scale": {"domain": [0, 4], "nice": false}, "axis": {"title": null, "tickCount": 100, "values": [0,0.301,0.477,0.602,0.699,0.778,0.845,0.903,0.954,1,1.301,1.477,1.602,1.699,1.778,1.845,1.903,1.954,2,2.301,2.477,2.602,2.699,2.778,2.845,2.903,2.954,3,3.301,3.477,3.602,3.699,3.778,3.845,3.903,3.954,4]}}, "y": {"field": "y", "type": "quantitative", "scale": {"domain": [0, 126], "nice": false}, "axis": {"title": null, "tickCount": 100, "values": [0,6,12,18,24,30,36,42,48,54,60,66,72,78,84,90,96,102,108,114,120,126]}}}},
{"data": {"values": [{}]}, "mark": {"type": "rule", "color": "black", "strokeWidth": 1}, "encoding": {"x": {"datum": 1}}},
{"data": {"name": "lab"}, "transform": [{"filter": "datum.p === 'b5'"}], "mark": {"type": "text", "align": "left", "baseline": "alphabetic", "font": "Liberation Serif", "fontWeight": "bold", "fontSize": 19.5, "lineHeight": 19.5, "lineBreak": "\n", "color": "black"}, "encoding": {"x": {"datum": 1.22}, "y": {"datum": 106}, "text": {"field": "t"}}}
]},
{"width": 27, "height": 126, "view": {"stroke": null}, "data": {"values": [{}]}, "mark": {"type": "point", "opacity": 0}, "encoding": {}},
{"width": 171, "height": 126, "layer": [
{"data": {"name": "h"}, "transform": [{"filter": "datum.p === 'c5'"}], "mark": {"type": "line", "color": "black", "strokeWidth": 1}, "encoding": {"x": {"field": "x", "type": "quantitative", "scale": {"domain": [0, 4], "nice": false}, "axis": {"title": null, "tickCount": 100, "values": [0,0.301,0.477,0.602,0.699,0.778,0.845,0.903,0.954,1,1.301,1.477,1.602,1.699,1.778,1.845,1.903,1.954,2,2.301,2.477,2.602,2.699,2.778,2.845,2.903,2.954,3,3.301,3.477,3.602,3.699,3.778,3.845,3.903,3.954,4]}}, "y": {"field": "y", "type": "quantitative", "scale": {"domain": [0, 126], "nice": false}, "axis": {"title": null, "tickCount": 100, "values": [0,6,12,18,24,30,36,42,48,54,60,66,72,78,84,90,96,102,108,114,120,126]}}}},
{"data": {"values": [{}]}, "mark": {"type": "rule", "color": "black", "strokeWidth": 1}, "encoding": {"x": {"datum": 1.64}}},
{"data": {"name": "lab"}, "transform": [{"filter": "datum.p === 'c5'"}], "mark": {"type": "text", "align": "left", "baseline": "alphabetic", "font": "Liberation Serif", "fontWeight": "bold", "fontSize": 19.5, "lineHeight": 19.5, "lineBreak": "\n", "color": "black"}, "encoding": {"x": {"datum": 1.36}, "y": {"datum": 106}, "text": {"field": "t"}}}
]},
{"width": 171, "height": 126, "view": {"stroke": null}, "data": {"values": [{}]}, "mark": {"type": "point", "opacity": 0}, "encoding": {}},
{"width": 171, "height": 126, "layer": [
{"data": {"name": "h"}, "transform": [{"filter": "datum.p === 'b6'"}], "mark": {"type": "line", "color": "black", "strokeWidth": 1}, "encoding": {"x": {"field": "x", "type": "quantitative", "scale": {"domain": [0, 4], "nice": false}, "axis": {"title": null, "tickCount": 100, "values": [0,0.301,0.477,0.602,0.699,0.778,0.845,0.903,0.954,1,1.301,1.477,1.602,1.699,1.778,1.845,1.903,1.954,2,2.301,2.477,2.602,2.699,2.778,2.845,2.903,2.954,3,3.301,3.477,3.602,3.699,3.778,3.845,3.903,3.954,4]}}, "y": {"field": "y", "type": "quantitative", "scale": {"domain": [0, 126], "nice": false}, "axis": {"title": null, "tickCount": 100, "values": [0,6,12,18,24,30,36,42,48,54,60,66,72,78,84,90,96,102,108,114,120,126]}}}},
{"data": {"values": [{}]}, "mark": {"type": "rule", "color": "black", "strokeWidth": 1}, "encoding": {"x": {"datum": 1}}},
{"data": {"name": "lab"}, "transform": [{"filter": "datum.p === 'b6'"}], "mark": {"type": "text", "align": "left", "baseline": "alphabetic", "font": "Liberation Serif", "fontWeight": "bold", "fontSize": 19.5, "lineHeight": 19.5, "lineBreak": "\n", "color": "black"}, "encoding": {"x": {"datum": 1.22}, "y": {"datum": 106}, "text": {"field": "t"}}},
{"data": {"values": [{}]}, "mark": {"type": "rule", "color": "black", "strokeWidth": 1}, "encoding": {"x": {"datum": -4.81}, "y": {"datum": -18}, "y2": {"datum": 100}}},
{"data": {"values": [{}]}, "mark": {"type": "rule", "color": "black", "strokeWidth": 1}, "encoding": {"x": {"datum": -4.81}, "x2": {"datum": -3.19}, "y": {"datum": -18}}},
{"data": {"values": [{}]}, "mark": {"type": "rule", "color": "black", "strokeWidth": 1}, "encoding": {"x": {"datum": -0.4}, "x2": {"datum": 3.85}, "y": {"datum": -18}}},
{"data": {"values": [{}]}, "mark": {"type": "point", "shape": "triangle-up", "size": 60, "filled": true, "color": "black", "opacity": 1}, "encoding": {"x": {"datum": -4.81}, "y": {"datum": 102}}},
{"data": {"values": [{}]}, "mark": {"type": "point", "shape": "triangle-right", "size": 60, "filled": true, "color": "black", "opacity": 1}, "encoding": {"x": {"datum": 3.9}, "y": {"datum": -18}}},
{"data": {"values": [{"t": "Surface IgM"}]}, "mark": {"type": "text", "align": "center", "baseline": "middle", "font": "Liberation Serif", "fontWeight": "bold", "fontSize": 19.5, "color": "black"}, "encoding": {"x": {"datum": -1.81}, "y": {"datum": -18}, "text": {"field": "t"}}},
{"data": {"values": [{"t": "Relative Cell No."}]}, "mark": {"type": "text", "align": "center", "baseline": "middle", "angle": 270, "font": "Liberation Serif", "fontWeight": "bold", "fontSize": 19.5, "color": "black"}, "encoding": {"x": {"datum": -4.85}, "y": {"datum": 188}, "text": {"field": "t"}}}
]},
{"width": 27, "height": 126, "view": {"stroke": null}, "data": {"values": [{}]}, "mark": {"type": "point", "opacity": 0}, "encoding": {}},
{"width": 171, "height": 126, "layer": [
{"data": {"name": "h"}, "transform": [{"filter": "datum.p === 'c6'"}], "mark": {"type": "line", "color": "black", "strokeWidth": 1}, "encoding": {"x": {"field": "x", "type": "quantitative", "scale": {"domain": [0, 4], "nice": false}, "axis": {"title": null, "tickCount": 100, "values": [0,0.301,0.477,0.602,0.699,0.778,0.845,0.903,0.954,1,1.301,1.477,1.602,1.699,1.778,1.845,1.903,1.954,2,2.301,2.477,2.602,2.699,2.778,2.845,2.903,2.954,3,3.301,3.477,3.602,3.699,3.778,3.845,3.903,3.954,4]}}, "y": {"field": "y", "type": "quantitative", "scale": {"domain": [0, 126], "nice": false}, "axis": {"title": null, "tickCount": 100, "values": [0,6,12,18,24,30,36,42,48,54,60,66,72,78,84,90,96,102,108,114,120,126]}}}},
{"data": {"values": [{}]}, "mark": {"type": "rule", "color": "black", "strokeWidth": 1}, "encoding": {"x": {"datum": 1.64}}},
{"data": {"name": "lab"}, "transform": [{"filter": "datum.p === 'c6'"}], "mark": {"type": "text", "align": "left", "baseline": "alphabetic", "font": "Liberation Serif", "fontWeight": "bold", "fontSize": 19.5, "lineHeight": 19.5, "lineBreak": "\n", "color": "black"}, "encoding": {"x": {"datum": 1.36}, "y": {"datum": 106}, "text": {"field": "t"}}},
{"data": {"values": [{}]}, "mark": {"type": "rule", "color": "black", "strokeWidth": 1}, "encoding": {"x": {"datum": -0.63}, "y": {"datum": -15}, "y2": {"datum": 104}}},
{"data": {"values": [{}]}, "mark": {"type": "rule", "color": "black", "strokeWidth": 1}, "encoding": {"x": {"datum": -0.63}, "x2": {"datum": 0.2}, "y": {"datum": -15}}},
{"data": {"values": [{}]}, "mark": {"type": "point", "shape": "triangle-up", "size": 60, "filled": true, "color": "black", "opacity": 1}, "encoding": {"x": {"datum": -0.63}, "y": {"datum": 106}}},
{"data": {"values": [{}]}, "mark": {"type": "point", "shape": "triangle-right", "size": 60, "filled": true, "color": "black", "opacity": 1}, "encoding": {"x": {"datum": 0.26}, "y": {"datum": -15}}},
{"data": {"values": [{"t": "Intracellular κ"}]}, "mark": {"type": "text", "align": "left", "baseline": "middle", "font": "Liberation Serif", "fontWeight": "bold", "fontSize": 19.5, "color": "black"}, "encoding": {"x": {"datum": 0.49}, "y": {"datum": -16}, "text": {"field": "t"}}},
{"data": {"values": [{"t": "Relative Cell No."}]}, "mark": {"type": "text", "align": "center", "baseline": "middle", "angle": 270, "font": "Liberation Serif", "fontWeight": "bold", "fontSize": 19.5, "color": "black"}, "encoding": {"x": {"datum": -0.61}, "y": {"datum": 193}, "text": {"field": "t"}}}
]}
]
}
